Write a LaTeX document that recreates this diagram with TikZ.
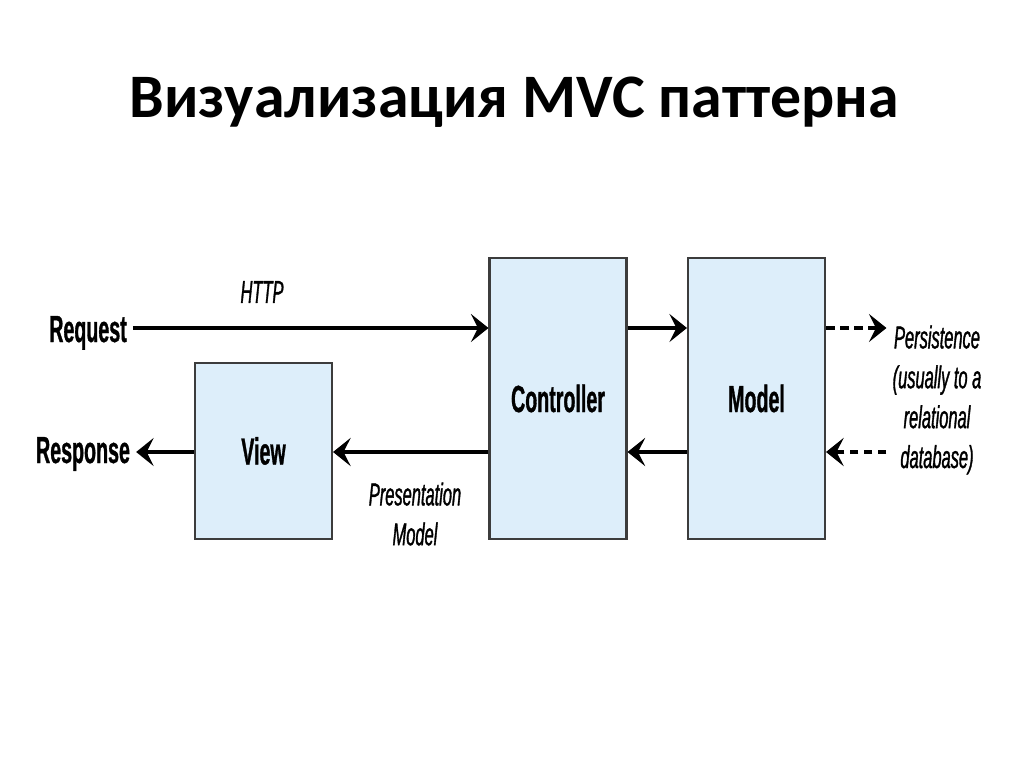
\documentclass[tikz,border=0pt]{standalone}
\usepackage{fontspec}
\setmainfont{Liberation Sans}
\newfontfamily\titlefont{Carlito}
\newfontfamily\condfont[FakeStretch=0.52, BoldFeatures={FakeBold=0.8}, ItalicFeatures={FakeBold=1}]{Liberation Sans}
\usetikzlibrary{arrows.meta}
\definecolor{boxblue}{RGB}{221,238,250}
\definecolor{boxline}{RGB}{60,60,60}

\begin{document}
\begin{tikzpicture}[x=0.02cm, y=-0.02cm,
  box/.style={draw=boxline, line width=1.2pt, fill=boxblue, minimum width=2.74cm,
    font=\condfont\bfseries\fontsize{21.5}{24}\selectfont},
  lbl/.style={font=\condfont\bfseries\fontsize{21.5}{24}\selectfont, anchor=base},
  note/.style={font=\condfont\itshape\fontsize{18}{22.7}\selectfont, align=center},
  >={Stealth[length=10pt,width=16pt,inset=4pt]},
  arr/.style={->, line width=2.2pt},
  darr/.style={arr, dash pattern=on 5pt off 3pt}]
\useasboundingbox (0,0) rectangle (1024,767);
\node[font=\titlefont\bfseries\fontsize{35.2}{40}\selectfont, anchor=base] (title) at (514,117) {Визуализация MVC паттерна};
% the three boxes
\node[box, minimum height=5.62cm] (ctrl) at (558,398.5) {Controller};
\node[box, minimum height=5.62cm] (model) at (756.5,398.5) {Model};
\node[box, minimum height=3.52cm] (view) at (263.5,451) {View};
% rows of the arrows
\coordinate (top) at (0,328);
\coordinate (bot) at (0,452);
\node[lbl] (request) at (88,342) {Request};
\node[lbl] (response) at (83,463) {Response};
\node[note] (http) at (262,292) {HTTP};
\node[note] (pres) at (415,514) {Presentation\\Model};
\node[note] (persist) at (937,400) {Persistence\\(usually to a\\relational\\database)};
\draw[arr] (request.east |- top) -- (ctrl.west |- top);
\draw[arr] (ctrl.east |- top) -- (model.west |- top);
\draw[darr] (model.east |- top) -- (persist.west |- top);
\draw[darr] (persist.west |- bot) -- (model.east |- bot);
\draw[arr] (model.west |- bot) -- (ctrl.east |- bot);
\draw[arr] (ctrl.west |- bot) -- (view.east |- bot);
\draw[arr] (view.west |- bot) -- (response.east |- bot);
\end{tikzpicture}
\end{document}
